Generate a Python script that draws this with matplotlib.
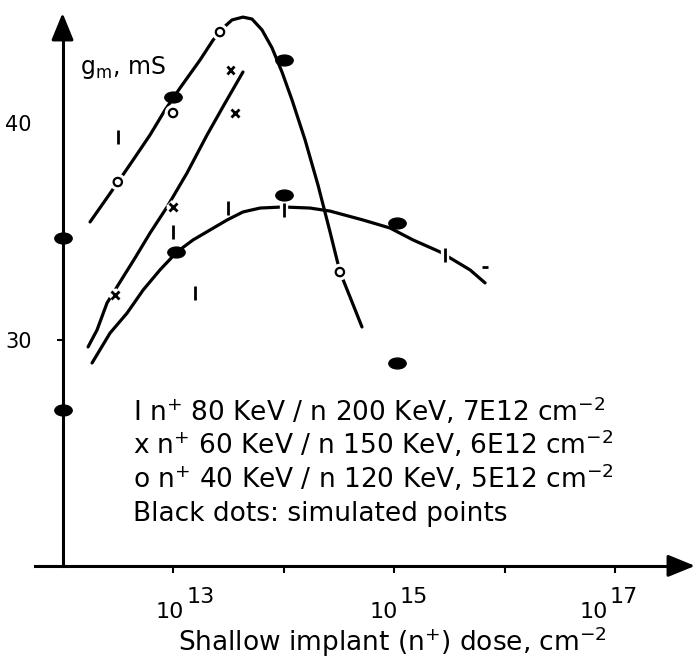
import numpy as np
import matplotlib.pyplot as plt
import matplotlib.patheffects as pe
from matplotlib.markers import MarkerStyle
from matplotlib.transforms import Affine2D
from matplotlib.ticker import NullLocator

# x values are log10 of the shallow implant dose (cm-2), y values g_m in mS

# measured points, "I" series (n+ 80 KeV / n 200 KeV)
l_logdose = [12.50, 13.00, 13.20, 13.50, 14.00, 15.46]
l_gm = [39.35, 34.98, 32.17, 36.08, 35.99, 33.92]
l_dash_logdose = [15.82]
l_dash_gm = [33.36]

# "x" series (n+ 60 KeV / n 150 KeV)
x_logdose = [12.475, 13.00, 13.56, 13.52]
x_gm = [32.07, 36.13, 40.46, 42.44]

# "o" series (n+ 40 KeV / n 120 KeV)
o_logdose = [12.50, 13.00, 13.425, 14.51]
o_gm = [37.28, 40.46, 44.19, 33.13]

# black dots: simulated points
sim_logdose = [12.0, 12.0, 13.0, 13.03, 14.0, 14.0, 15.03, 15.03]
sim_gm = [34.70, 26.77, 41.20, 34.06, 42.90, 36.68, 35.39, 28.94]

# hand drawn curves
o_curve_logdose = [12.249, 12.376, 12.502, 12.638, 12.792, 12.928, 13.063, 13.244,
                   13.362, 13.434, 13.534, 13.633, 13.715, 13.805, 13.896, 13.986,
                   14.077, 14.195, 14.312, 14.421, 14.511, 14.602, 14.710]
o_curve_gm = [35.44, 36.36, 37.28, 38.29, 39.45, 40.60, 41.61, 42.90,
              43.82, 44.29, 44.75, 44.88, 44.79, 44.29, 43.46, 42.35,
              41.06, 39.22, 37.14, 34.98, 33.13, 31.98, 30.60]

x_curve_logdose = [12.231, 12.312, 12.403, 12.520, 12.656, 12.792, 12.946, 13.127,
                   13.308, 13.471, 13.633]
x_curve_gm = [29.68, 30.46, 31.71, 32.67, 33.78, 34.93, 36.13, 37.70,
              39.45, 40.92, 42.35]

l_curve_logdose = [12.267, 12.430, 12.584, 12.729, 12.882, 13.036, 13.181, 13.335,
                   13.489, 13.633, 13.787, 13.995, 14.240, 14.421, 14.719, 14.964,
                   15.172, 15.416, 15.688, 15.824]
l_curve_gm = [28.94, 30.32, 31.24, 32.30, 33.23, 34.06, 34.61, 35.07,
              35.53, 35.90, 36.08, 36.13, 36.08, 35.94, 35.53, 35.16,
              34.61, 34.06, 33.23, 32.63]

W, H = 696, 662


def fpos(px, py):
    # pixel position -> figure fraction
    return px / W, 1 - py / H


fig = plt.figure(figsize=(W / 100, H / 100), dpi=100)
ax = fig.add_axes([0, 0, 1, 1])
ax.set_xscale('log')
ax.set_xlim(10**11.434, 10**17.733)
ax.set_ylim(15.16, 45.668)

y0 = 19.59
ax.spines['top'].set_visible(False)
ax.spines['right'].set_visible(False)
ax.spines['left'].set_position(('data', 1e12))
ax.spines['left'].set_bounds(y0, 44.3)
ax.spines['bottom'].set_position(('data', y0))
ax.spines['bottom'].set_bounds(10**11.751, 10**17.55)
for s in ['left', 'bottom']:
    ax.spines[s].set_linewidth(2.2)

ax.set_xticks([1e13, 1e14, 1e15, 1e16, 1e17], labels=[''] * 5)
ax.xaxis.set_minor_locator(NullLocator())
ax.tick_params(axis='x', direction='out', length=5, width=1.5)
ax.set_yticks([30, 40], labels=['30', '40'])
ax.tick_params(axis='y', direction='out', length=4, width=1.5, pad=18, labelsize=15)
ax.yaxis.get_major_ticks()[1].tick1line.set_visible(False)

# arrow heads on the axes
head = dict(arrowstyle='-|>,head_length=1.1,head_width=0.45', mutation_scale=15,
            color='k', lw=2.2, shrinkA=0, shrinkB=0)
ax.annotate('', xy=(1e12, 45.07), xytext=(1e12, 44.0), arrowprops=head)
ax.annotate('', xy=(10**17.724, y0), xytext=(10**17.5, y0), arrowprops=head)

# curves
for xs, ys in [(o_curve_logdose, o_curve_gm), (x_curve_logdose, x_curve_gm),
               (l_curve_logdose, l_curve_gm)]:
    ax.plot(10**np.array(xs), ys, color='k', lw=2.3, solid_capstyle='round')

halo = [pe.withStroke(linewidth=6, foreground='white')]
ax.plot(10**np.array(o_logdose), o_gm, ls='none', marker='o', ms=6, mfc='white',
        mec='k', mew=1.6, path_effects=halo)
ax.plot(10**np.array(x_logdose), x_gm, ls='none', marker='x', ms=5.5, mec='k',
        mew=2, path_effects=halo)
ax.plot(10**np.array(l_logdose), l_gm, ls='none', marker='|', ms=10, mec='k',
        mew=2, path_effects=halo)
ax.plot(10**np.array(l_dash_logdose), l_dash_gm, ls='none', marker='_', ms=5,
        mec='k', mew=2)
ellipse = MarkerStyle('o', transform=Affine2D().scale(1.6, 1.0))
ax.plot(10**np.array(sim_logdose), sim_gm, ls='none', marker=ellipse, ms=7.8,
        color='k')

# axis texts
fig.text(*fpos(80, 74), r'$\mathregular{g_m}$, mS', fontsize=17, va='baseline')
for c, e, k in [(170, 187, 13), (384, 400, 15), (594, 610, 17)]:
    fig.text(*fpos(c, 618), '10', fontsize=16, ha='center', va='baseline')
    fig.text(*fpos(e, 603), str(k), fontsize=16, ha='left', va='baseline')
fig.text(*fpos(178, 651), r'Shallow implant (n$^{+}$) dose, cm$^{-2}$',
         fontsize=19, va='baseline')

legend_lines = [r'I n$^{+}$ 80 KeV / n 200 KeV, 7E12 cm$^{-2}$',
                r'x n$^{+}$ 60 KeV / n 150 KeV, 6E12 cm$^{-2}$',
                r'o n$^{+}$ 40 KeV / n 120 KeV, 5E12 cm$^{-2}$',
                'Black dots: simulated points']
for line, py in zip(legend_lines, [421, 454, 488, 521]):
    fig.text(*fpos(133, py), line, fontsize=19, va='baseline')

fig.savefig('out.png', dpi=100)
